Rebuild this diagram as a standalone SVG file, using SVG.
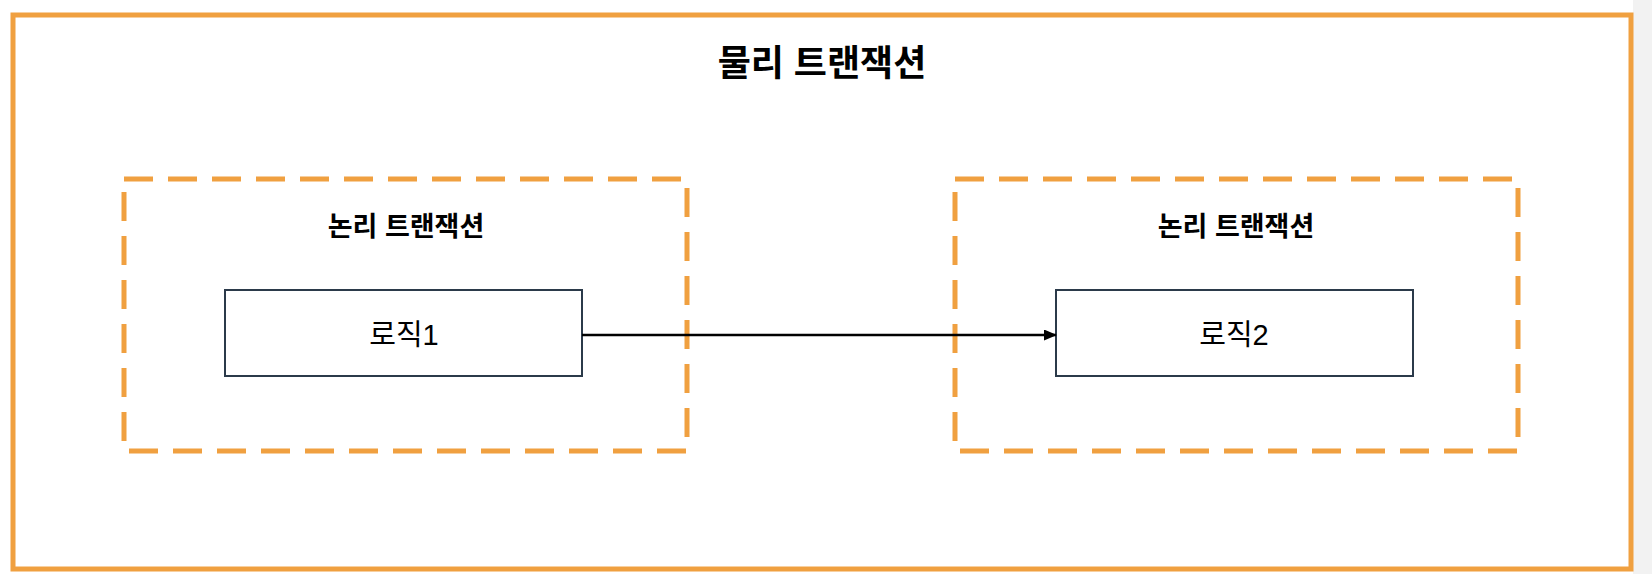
<svg xmlns="http://www.w3.org/2000/svg" width="1652" height="574" viewBox="0 0 1652 574">
<style>
.t{font-family:"Liberation Sans","Noto Sans CJK KR",sans-serif;text-anchor:middle;fill:#000}
.grp{fill:none;stroke:#f0a040;stroke-width:5;stroke-dasharray:29 15}
.box{fill:#fff;stroke:#2b3a4a;stroke-width:2}
</style>
<defs><marker id="ah" markerWidth="13" markerHeight="11" refX="12" refY="5.5" orient="auto" markerUnits="userSpaceOnUse"><path d="M0,0L13,5.5L0,11Z" fill="#000"/></marker></defs>
<rect width="1652" height="574" fill="#fff"/>
<rect x="1633" y="0" width="19" height="574" fill="#f2f2f2"/>
<g id="outer"><rect x="13" y="15" width="1618" height="554" fill="none" stroke="#f0a040" stroke-width="5"/>
<text class="t" x="822" y="76" font-size="36" font-weight="bold">물리 트랜잭션</text></g>
<g id="group1"><rect class="grp" x="124" y="179" width="563" height="272"/>
<text class="t" x="406" y="236" font-size="27" font-weight="bold">논리 트랜잭션</text></g>
<g id="group2"><rect class="grp" x="955" y="179" width="563" height="272"/>
<text class="t" x="1236" y="236" font-size="27" font-weight="bold">논리 트랜잭션</text></g>
<g id="logic1"><rect class="box" x="225" y="290" width="357" height="86"/>
<text class="t" x="404" y="345" font-size="29">로직1</text></g>
<g id="logic2"><rect class="box" x="1056" y="290" width="357" height="86"/>
<text class="t" x="1234" y="345" font-size="29">로직2</text></g>
<g id="connectors"><line x1="582" y1="335" x2="1056" y2="335" stroke="#000" stroke-width="2.5" marker-end="url(#ah)"/></g>
</svg>
